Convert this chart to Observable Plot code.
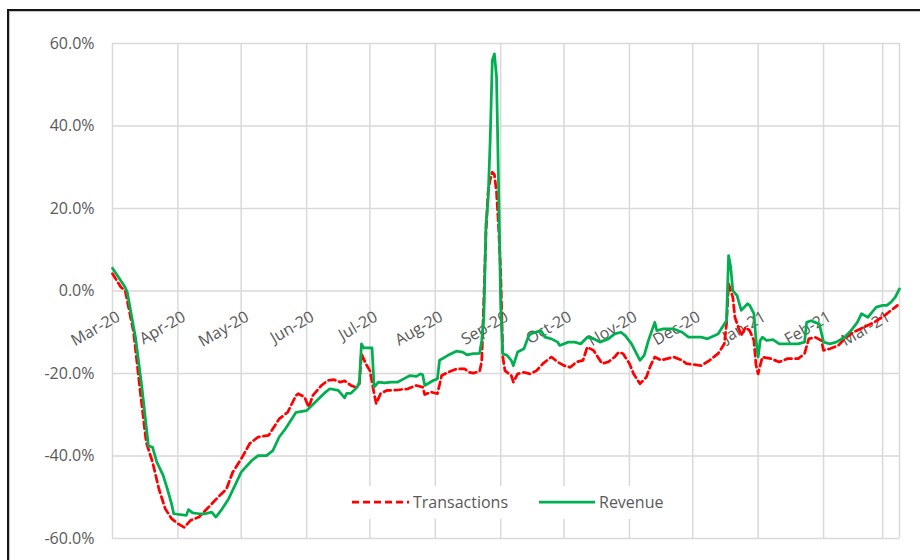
<!DOCTYPE html>
<html>
<head>
<meta charset="utf-8">
<script src="https://cdn.jsdelivr.net/npm/d3@7"></script>
<script src="https://cdn.jsdelivr.net/npm/@observablehq/plot@0.6"></script>
<style>
  html, body { margin: 0; padding: 0; background: #fff; overflow: hidden; width: 920px; height: 560px; }
  #frame { position: absolute; left: 7px; top: 9px; width: 1000px; height: 1000px;
           border-left: 2px solid #151515; border-top: 2px solid #151515;
           box-shadow: inset 1px 1px 1px rgba(0,0,0,0.25); }
  #chart { position: absolute; left: 0; top: 0; }
  #legend { position: absolute; left: 336px; top: 486px; width: 340px; height: 33px; background: #fff;
            font-family: "Open Sans", sans-serif; font-size: 16px; color: #595959; }
  #legend span { position: absolute; top: 4px; line-height: 24px; }
  #legend svg { position: absolute; top: 13px; }
</style>
</head>
<body>
<div id="frame"></div>
<div id="chart"></div>
<div id="legend">
  <svg style="left:16px" width="57" height="6"><line x1="0" y1="3" x2="57" y2="3" stroke="#FF0000" stroke-width="2.75" stroke-dasharray="7,4"/></svg>
  <span style="left:77px">Transactions</span>
  <svg style="left:203px" width="56" height="6"><line x1="0" y1="3" x2="56" y2="3" stroke="#00B050" stroke-width="2.75"/></svg>
  <span style="left:263px">Revenue</span>
</div>
<script>
const monthDates = ["2020-03-01","2020-04-01","2020-05-01","2020-06-01","2020-07-01","2020-08-01","2020-09-01","2020-10-01","2020-11-01","2020-12-01","2021-01-01","2021-02-01","2021-03-01"];
const monthLabels = ["Mar-20","Apr-20","May-20","Jun-20","Jul-20","Aug-20","Sep-20","Oct-20","Nov-20","Dec-20","Jan-21","Feb-21","Mar-21"];
const yTicks = [-60, -40, -20, 0, 20, 40, 60];
const xEnd = "2021-03-09";

const revenueDates = ["2020-03-01","2020-03-07","2020-03-08","2020-03-12","2020-03-15","2020-03-18","2020-03-20","2020-03-22","2020-03-25","2020-03-27","2020-03-29","2020-03-30",
"2020-04-05","2020-04-06","2020-04-08","2020-04-11","2020-04-14","2020-04-17","2020-04-19","2020-04-22","2020-04-25","2020-04-28",
"2020-05-01","2020-05-06","2020-05-09","2020-05-13","2020-05-16","2020-05-19","2020-05-22","2020-05-27",
"2020-06-01","2020-06-06","2020-06-10","2020-06-12","2020-06-16","2020-06-19","2020-06-20","2020-06-22","2020-06-25","2020-06-26","2020-06-27","2020-06-28",
"2020-07-02","2020-07-03","2020-07-05","2020-07-08","2020-07-11","2020-07-14","2020-07-17","2020-07-20","2020-07-23","2020-07-25","2020-07-26","2020-07-27","2020-07-31",
"2020-08-02","2020-08-03","2020-08-07","2020-08-11","2020-08-14","2020-08-16","2020-08-19","2020-08-22","2020-08-23","2020-08-24","2020-08-25","2020-08-26","2020-08-27","2020-08-28","2020-08-29","2020-08-30","2020-08-31",
"2020-09-01","2020-09-02","2020-09-04","2020-09-06","2020-09-07","2020-09-09","2020-09-12","2020-09-14","2020-09-15","2020-09-20","2020-09-22","2020-09-25","2020-09-28","2020-09-29",
"2020-10-03","2020-10-06","2020-10-09","2020-10-12","2020-10-15","2020-10-18","2020-10-22","2020-10-25","2020-10-28","2020-10-30",
"2020-11-02","2020-11-04","2020-11-06","2020-11-08","2020-11-10","2020-11-13","2020-11-14","2020-11-17","2020-11-22","2020-11-26","2020-11-29",
"2020-12-05","2020-12-08","2020-12-13","2020-12-15","2020-12-17","2020-12-18","2020-12-19","2020-12-20","2020-12-22","2020-12-24","2020-12-27","2020-12-28","2020-12-30","2020-12-31",
"2021-01-01","2021-01-02","2021-01-03","2021-01-05","2021-01-08","2021-01-11","2021-01-15","2021-01-20","2021-01-23","2021-01-24","2021-01-26","2021-01-28","2021-01-30",
"2021-02-01","2021-02-04","2021-02-07","2021-02-11","2021-02-14","2021-02-17","2021-02-19","2021-02-22","2021-02-24","2021-02-26",
"2021-03-01","2021-03-03","2021-03-05","2021-03-07","2021-03-09"];
const revenueValues = [5.5,0.9,-0.3,-11.6,-23.7,-37.5,-37.9,-41.5,-44.7,-48,-51.6,-54,
-54.4,-53,-53.8,-54,-54,-53.6,-54.8,-52.8,-50.4,-47.2,
-43.9,-41.1,-39.9,-39.9,-38.7,-35.4,-33.4,-29.4,
-29.0,-26.5,-24.5,-23.7,-24.1,-25.9,-24.8,-24.8,-23.3,-22.1,-12.8,-13.8,
-13.8,-23.3,-22.1,-22.3,-22.1,-22.1,-21.3,-20.5,-20.7,-20.1,-20.3,-22.9,-21.7,
-21.3,-16.8,-15.6,-14.6,-14.8,-15.5,-15.2,-15.1,-12,-6.4,16.3,21.9,36.5,55.9,57.5,52,25,
-3.9,-15.2,-15.6,-16.8,-18.1,-14.8,-14,-11.2,-10.4,-9.6,-11.2,-11.6,-12.4,-13.2,
-12.4,-12.4,-12.8,-11.2,-11.6,-12.4,-11.6,-10.4,-10,-10.8,
-12.8,-14.8,-16.8,-15.6,-12,-7.6,-9.6,-9.2,-9.2,-10,-11.2,
-11.2,-11.6,-10.4,-8.8,-7.2,8.6,5.8,0.1,-1.1,-4.7,-3.1,-3.5,-5.5,-12,
-16,-12,-11.2,-12,-11.8,-12.8,-12.8,-12.8,-12.4,-7.6,-7.2,-7.6,-8,
-12.4,-12.8,-12.4,-11.2,-9.6,-7.6,-5.5,-6.4,-5.1,-3.9,
-3.5,-3.5,-2.7,-1.5,0.5];

const transactionDates = ["2020-03-01","2020-03-05","2020-03-07","2020-03-11","2020-03-14","2020-03-17","2020-03-20","2020-03-23","2020-03-26","2020-03-29",
"2020-04-01","2020-04-04","2020-04-07","2020-04-11","2020-04-14","2020-04-17","2020-04-20","2020-04-24","2020-04-27",
"2020-05-01","2020-05-05","2020-05-09","2020-05-14","2020-05-19","2020-05-23","2020-05-27","2020-05-28","2020-05-31",
"2020-06-02","2020-06-04","2020-06-08","2020-06-11","2020-06-14","2020-06-17","2020-06-19","2020-06-22","2020-06-24","2020-06-26","2020-06-27","2020-06-29",
"2020-07-01","2020-07-03","2020-07-04","2020-07-06","2020-07-09","2020-07-14","2020-07-19","2020-07-23","2020-07-26","2020-07-27","2020-07-30",
"2020-08-02","2020-08-04","2020-08-07","2020-08-11","2020-08-15","2020-08-17","2020-08-19","2020-08-22","2020-08-23","2020-08-24","2020-08-25","2020-08-26","2020-08-27","2020-08-28","2020-08-29","2020-08-30","2020-08-31",
"2020-09-01","2020-09-02","2020-09-03","2020-09-06","2020-09-07","2020-09-09","2020-09-12","2020-09-15","2020-09-18","2020-09-21","2020-09-25","2020-09-28",
"2020-10-01","2020-10-04","2020-10-07","2020-10-10","2020-10-12","2020-10-15","2020-10-17","2020-10-19","2020-10-22","2020-10-25","2020-10-27","2020-10-29",
"2020-11-01","2020-11-03","2020-11-06","2020-11-09","2020-11-11","2020-11-13","2020-11-16","2020-11-19","2020-11-22","2020-11-26","2020-11-28",
"2020-12-05","2020-12-09","2020-12-13","2020-12-16","2020-12-17","2020-12-18","2020-12-20","2020-12-21","2020-12-24","2020-12-26","2020-12-28","2020-12-30","2020-12-31",
"2021-01-01","2021-01-02","2021-01-03","2021-01-07","2021-01-11","2021-01-15","2021-01-20","2021-01-23","2021-01-25","2021-01-28","2021-01-31",
"2021-02-01","2021-02-04","2021-02-08","2021-02-11","2021-02-15","2021-02-20","2021-02-25",
"2021-03-02","2021-03-05","2021-03-07","2021-03-08"];
const transactionValues = [4.2,0.9,0.1,-10,-23.7,-36.7,-41.5,-48,-52.8,-55.2,
-56.4,-57.3,-55.6,-54.8,-53.2,-51.6,-50,-48,-43.9,
-40.7,-37,-35.4,-35,-31,-29.4,-25.3,-24.9,-25.7,
-28.2,-25.3,-22.9,-21.7,-21.5,-22.1,-21.8,-22.9,-23.3,-22.5,-15.2,-17.6,
-19.3,-24.9,-27.3,-24.9,-24.1,-24,-23.7,-22.9,-23.3,-25.1,-24.5,
-24.9,-20.5,-19.7,-18.9,-18.9,-19.7,-19.9,-19.5,-17,-2,14,24,27,28.8,28.2,24,15.5,
4.2,-16,-19.3,-20.5,-22.1,-20.1,-19.7,-20.1,-19.3,-17.6,-16,-17.2,
-18.1,-18.5,-17.2,-16.8,-13.6,-14.4,-16,-17.6,-17.2,-16,-14.8,-15.2,
-17.6,-20.1,-22.5,-20.9,-18.1,-16,-16.8,-16.4,-16,-16.8,-17.6,
-18.1,-16.8,-15.2,-12.8,-8,1.7,-1.5,-6.4,-10.8,-8.8,-9.6,-12,-18,
-20.1,-18,-16,-16.4,-17.2,-16.4,-16.4,-15.2,-11.6,-11.2,-12,
-14.4,-14,-13.2,-11.6,-10,-8.8,-7.6,
-5.9,-4.7,-3.9,-3.5];

const revenue = revenueDates.map((d, i) => ({date: new Date(d), value: revenueValues[i]}));
const transactions = transactionDates.map((d, i) => ({date: new Date(d), value: transactionValues[i]}));
const months = monthDates.map((d, i) => ({date: new Date(d), label: monthLabels[i]}));

const grid = "#d9d9d9";
const chart = Plot.plot({
  width: 920,
  height: 560,
  marginLeft: 112,
  marginRight: 21,
  marginTop: 43,
  marginBottom: 22,
  style: {fontFamily: "'Open Sans', sans-serif", fontSize: "16px", background: "transparent", overflow: "visible"},
  x: {type: "utc", domain: [new Date(monthDates[0]), new Date(xEnd)], axis: null},
  y: {domain: [yTicks[0], yTicks[yTicks.length - 1]], axis: null},
  marks: [
    Plot.ruleY(yTicks, {stroke: grid, strokeWidth: 1.5}),
    Plot.ruleX(months.map(d => d.date).concat([new Date(xEnd)]), {stroke: grid, strokeWidth: 1.5}),
    Plot.text(yTicks, {y: d => d, text: d => d.toFixed(1) + "%", frameAnchor: "left", textAnchor: "end", dx: -18, fill: "#595959", fontSize: 16}),
    Plot.text(months, {x: "date", y: () => 0, text: "label", rotate: -30, textAnchor: "end", lineAnchor: "top", dx: 3, dy: 19, fill: "#595959", fontSize: 16}),
    Plot.line(transactions, {x: "date", y: "value", stroke: "#FF0000", strokeWidth: 2.75, strokeDasharray: "7,4"}),
    Plot.line(revenue, {x: "date", y: "value", stroke: "#00B050", strokeWidth: 2.75})
  ]
});
document.getElementById("chart").appendChild(chart);
</script>
</body>
</html>
